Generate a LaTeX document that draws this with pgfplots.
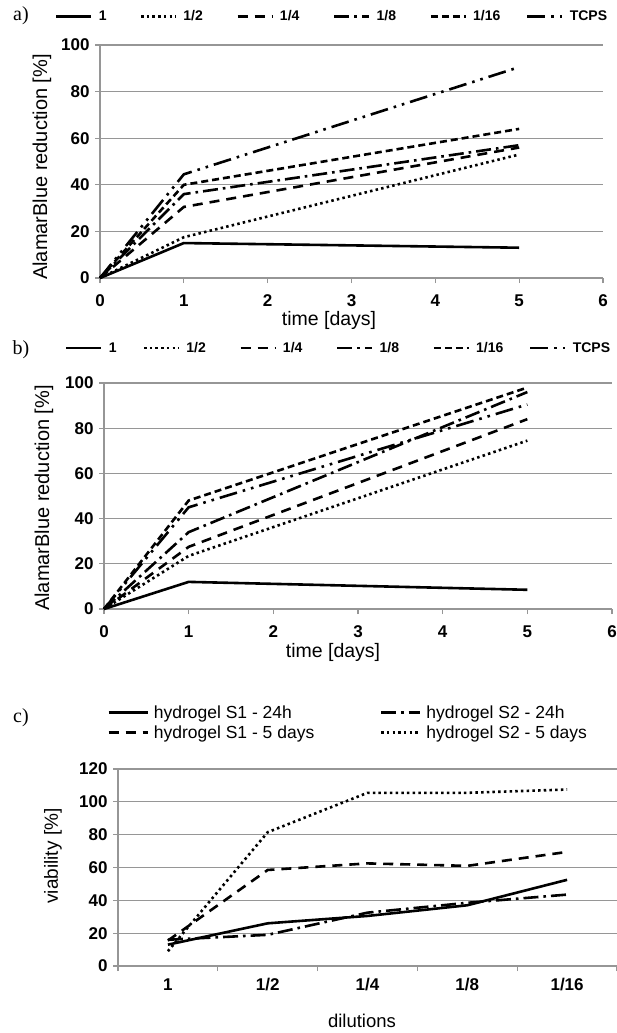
\documentclass[border=0pt]{standalone}
\usepackage{fontspec}
\setmainfont{Liberation Sans}
\newfontfamily\seriffont{Liberation Serif}
\usepackage{pgfplots}
\pgfplotsset{compat=1.18}
\definecolor{axgray}{RGB}{150,150,150}

\pgfplotsset{
  excel/.style={
    scale only axis, anchor=south west,
    axis x line*=bottom, axis y line*=left,
    axis line style={draw=axgray, line width=1.2pt, -},
    ymajorgrids, grid style={draw=axgray, line width=1.2pt},
    tick align=outside, major tick length=5pt,
    tick style={draw=axgray, line width=1.2pt},
    /pgf/number format/assume math mode=true,
    ticklabel style={font=\bfseries\fontsize{17}{17}\selectfont, text=black},
    yticklabel style={xshift=-2pt},
    legend style={draw=none, fill=none, inner sep=0pt, anchor=west,
      nodes={inner sep=0pt},
      /tikz/every odd column/.append style={column sep=6pt},
      /tikz/every even column/.append style={column sep=0pt}},
    legend cell align=left,
    legend image code/.code={\draw[##1] (0pt,0pt) -- (35pt,0pt);},
    clip=false,
  },
  s1/.style={black, line width=2.6pt},
  s2/.style={black, line width=2.6pt, dash pattern=on 2.5pt off 3.2pt},
  s4/.style={black, line width=2.6pt, dash pattern=on 10pt off 7pt},
  s8/.style={black, line width=2.6pt, dash pattern=on 15pt off 5pt on 2.6pt off 5pt},
  s16/.style={black, line width=2.6pt, dash pattern=on 7pt off 4pt},
  stc/.style={black, line width=2.6pt, dash pattern=on 18pt off 6pt on 2.6pt off 6pt on 2.6pt off 6pt},
}

\begin{document}
\begin{tikzpicture}
\path[use as bounding box] (0pt,0pt) rectangle (617pt,-1033pt);

% ---- a) ----
\begin{axis}[excel, at={(100pt,-278pt)}, width=503pt, height=233pt,
  xmin=0, xmax=6, ymin=0, ymax=100, xtick={0,...,6}, ytick={0,20,...,100},
  xticklabel style={yshift=-8pt},
  legend columns=6,
  legend style={at={(-0.0895,1.122)}, font=\bfseries\fontsize{14}{14}\selectfont}]
\addplot[s1] coordinates {(0,0)(1,15)(5,13)};
\addlegendentry{\makebox[41pt][l]{1}}
\addplot[s2] coordinates {(0,0)(1,17.5)(5,53)};
\addlegendentry{\makebox[53pt][l]{1/2}}
\addplot[s4] coordinates {(0,0)(1,30.5)(5,56)};
\addlegendentry{\makebox[53pt][l]{1/4}}
\addplot[s8] coordinates {(0,0)(1,36)(5,57)};
\addlegendentry{\makebox[53pt][l]{1/8}}
\addplot[s16] coordinates {(0,0)(1,40)(5,64)};
\addlegendentry{\makebox[53pt][l]{1/16}}
\addplot[stc] coordinates {(0,0)(1,44.5)(5,90.5)};
\addlegendentry{\makebox[40pt][l]{TCPS}}
\end{axis}

% ---- b) ----
\begin{axis}[excel, at={(104pt,-609pt)}, width=508pt, height=226pt,
  xmin=0, xmax=6, ymin=0, ymax=100, xtick={0,...,6}, ytick={0,20,...,100},
  xticklabel style={yshift=-8pt},
  legend columns=6,
  legend style={at={(-0.0768,1.155)}, font=\bfseries\fontsize{14}{14}\selectfont}]
\addplot[s1] coordinates {(0,0)(1,12)(5,8.5)};
\addlegendentry{\makebox[34pt][l]{1}}
\addplot[s2] coordinates {(0,0)(1,23.5)(5,74.5)};
\addlegendentry{\makebox[53pt][l]{1/2}}
\addplot[s4] coordinates {(0,0)(1,27.5)(5,84)};
\addlegendentry{\makebox[53pt][l]{1/4}}
\addplot[s8] coordinates {(0,0)(1,34)(5,96)};
\addlegendentry{\makebox[53pt][l]{1/8}}
\addplot[s16] coordinates {(0,0)(1,48)(5,98)};
\addlegendentry{\makebox[53pt][l]{1/16}}
\addplot[stc] coordinates {(0,0)(1,45)(5,90.5)};
\addlegendentry{\makebox[40pt][l]{TCPS}}
\end{axis}

% ---- c) ----
\begin{axis}[excel, at={(118pt,-966pt)}, width=499pt, height=197pt,
  xmin=0.5, xmax=5.5, ymin=0, ymax=120, ytick={0,20,...,120},
  xtick={0.5,1.5,...,5.5}, xticklabels={},
  extra x ticks={1,2,3,4,5}, extra x tick labels={1,1/2,1/4,1/8,1/16},
  extra x tick style={major tick length=0pt, tick style={draw=none},
    xticklabel style={yshift=-9pt}},
  legend columns=2,
  legend image code/.code={\draw[#1] (0pt,0pt) -- (39pt,0pt);},
  legend style={at={(-0.022,1.236)}, font=\fontsize{17.5}{17.5}\selectfont,
    row sep=6pt, /tikz/every odd column/.append style={column sep=5pt}}]
\addplot[s1] coordinates {(1,13)(2,26)(3,30.5)(4,37)(5,52.5)};
\addlegendentry{\makebox[226pt][l]{hydrogel S1 - 24h}}
\addplot[s8] coordinates {(1,16)(2,19)(3,32.5)(4,38.5)(5,43.5)};
\addlegendentry{\makebox[180pt][l]{hydrogel S2 - 24h}}
\addplot[s4] coordinates {(1,15.5)(2,58.5)(3,62.5)(4,61)(5,69.5)};
\addlegendentry{\makebox[226pt][l]{hydrogel S1 - 5 days}}
\addplot[s2] coordinates {(1,9)(2,81.5)(3,105.5)(4,105.5)(5,107.5)};
\addlegendentry{\makebox[180pt][l]{hydrogel S2 - 5 days}}
\end{axis}

% ---- titles and panel letters ----
\node[font=\fontsize{20}{20}\selectfont, rotate=90] at (42pt,-167pt) {AlamarBlue reduction [\%]};
\node[font=\fontsize{19.5}{19.5}\selectfont] at (329pt,-320pt) {time [days]};
\node[font=\fontsize{20}{20}\selectfont, rotate=90] at (44pt,-498pt) {AlamarBlue reduction [\%]};
\node[font=\fontsize{19.5}{19.5}\selectfont] at (333pt,-652pt) {time [days]};
\node[font=\fontsize{19}{19}\selectfont, rotate=90] at (53pt,-856pt) {viability [\%]};
\node[font=\fontsize{18.5}{18.5}\selectfont] at (362pt,-1021pt) {dilutions};
\node[font=\seriffont\fontsize{20}{20}\selectfont] at (21pt,-16pt) {a)};
\node[font=\seriffont\fontsize{20}{20}\selectfont] at (21pt,-350pt) {b)};
\node[font=\seriffont\fontsize{20}{20}\selectfont] at (21pt,-718pt) {c)};
\end{tikzpicture}
\end{document}
